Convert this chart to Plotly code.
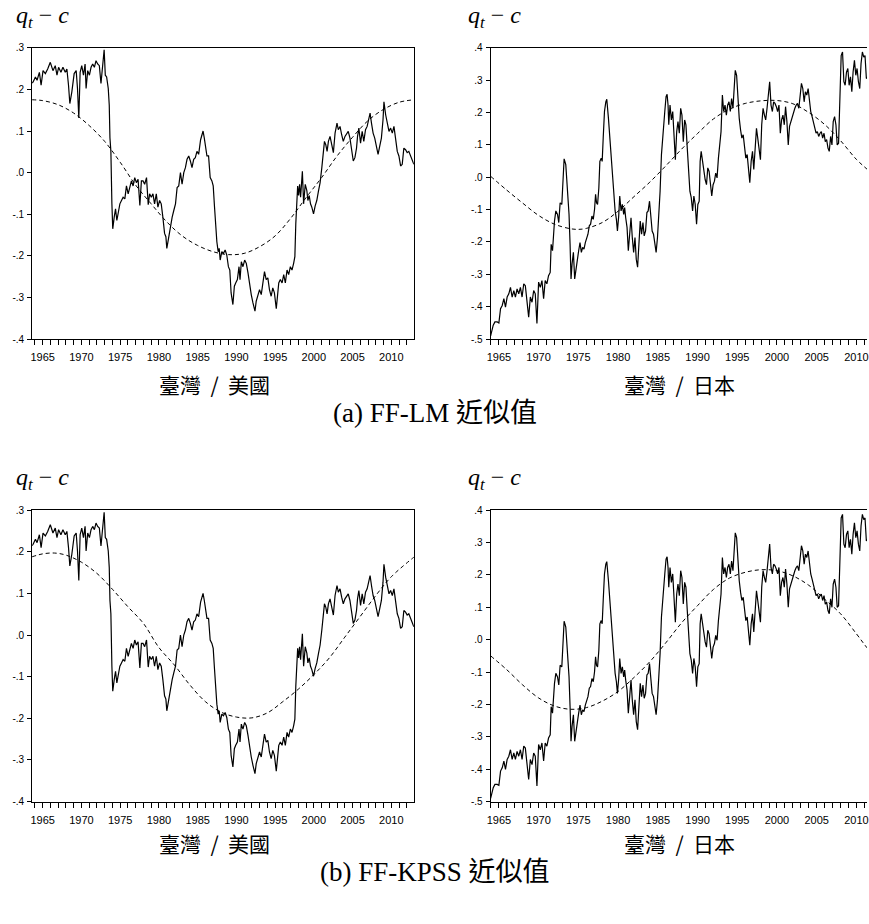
import plotly.graph_objects as go

# ---------------------------------------------------------------------------
# Real exchange rate deviation q_t - c, monthly (year, value) readings
# ---------------------------------------------------------------------------
tw_us = [
    (1963.63, .215), (1963.76, .218), (1964.06, .230), (1964.27, .222), (1964.57, .241), (1964.79, .210),
    (1965.04, .245), (1965.34, .238), (1965.64, .249), (1965.98, .265), (1966.32, .245), (1966.62, .257),
    (1966.84, .234), (1967.05, .253), (1967.35, .241), (1967.61, .253), (1967.91, .241), (1968.12, .249),
    (1968.33, .210), (1968.50, .166), (1968.76, .194), (1969.06, .238), (1969.32, .245), (1969.49, .202),
    (1969.66, .131), (1969.83, .241), (1970.04, .257), (1970.26, .234), (1970.47, .261), (1970.60, .202),
    (1970.81, .245), (1971.03, .234), (1971.24, .253), (1971.45, .261), (1971.67, .253), (1971.88, .269),
    (1972.09, .261), (1972.31, .257), (1972.52, .214), (1972.69, .249), (1972.93, .295), (1973.08, .234),
    (1973.25, .230), (1973.46, .202), (1973.59, .162), (1973.68, .083), (1973.80, .051), (1973.93, -.075),
    (1974.04, -.135), (1974.23, -.107), (1974.40, -.087), (1974.57, -.115), (1974.74, -.095), (1974.96, -.075),
    (1975.17, -.067), (1975.38, -.059), (1975.60, -.063), (1975.81, -.032), (1976.03, -.051), (1976.24, -.032),
    (1976.45, -.020), (1976.67, -.032), (1976.88, -.012), (1977.09, -.024), (1977.31, -.016), (1977.54, -.079),
    (1977.74, -.020), (1977.95, -.020), (1978.16, -.028), (1978.40, -.012), (1978.62, -.077), (1978.80, -.051),
    (1979.02, -.059), (1979.23, -.051), (1979.44, -.075), (1979.66, -.051), (1979.87, -.083), (1980.09, -.067),
    (1980.30, -.075), (1980.51, -.107), (1980.73, -.146), (1980.90, -.154), (1981.02, -.182), (1981.28, -.154),
    (1981.50, -.127), (1981.71, -.107), (1981.92, -.091), (1982.14, -.075), (1982.35, -.036), (1982.56, -.032),
    (1982.78, .000), (1982.99, -.028), (1983.21, .000), (1983.42, .012), (1983.63, .032), (1983.85, .040),
    (1984.06, .028), (1984.27, .012), (1984.49, .032), (1984.70, .036), (1984.91, .051), (1985.13, .044),
    (1985.38, .079), (1985.70, .100), (1985.86, .083), (1986.02, .063), (1986.20, .040), (1986.41, .040),
    (1986.62, -.012), (1986.84, -.020), (1987.01, -.032), (1987.18, -.083), (1987.35, -.139), (1987.48, -.166),
    (1987.65, -.190), (1987.78, -.182), (1987.91, -.210), (1988.12, -.190), (1988.33, -.194), (1988.55, -.186),
    (1988.76, -.198), (1988.97, -.226), (1989.15, -.234), (1989.32, -.289), (1989.55, -.317), (1989.74, -.273),
    (1989.91, -.265), (1990.13, -.257), (1990.34, -.226), (1990.47, -.257), (1990.64, -.214), (1990.85, -.226),
    (1991.07, -.210), (1991.28, -.218), (1991.50, -.241), (1991.71, -.273), (1991.92, -.293), (1992.14, -.313),
    (1992.40, -.333), (1992.56, -.309), (1992.78, -.297), (1992.99, -.281), (1993.21, -.293), (1993.42, -.265),
    (1993.63, -.238), (1993.85, -.257), (1994.06, -.253), (1994.27, -.281), (1994.49, -.297), (1994.70, -.277),
    (1994.91, -.289), (1995.15, -.327), (1995.30, -.297), (1995.47, -.265), (1995.68, -.257), (1995.90, -.265),
    (1996.11, -.245), (1996.32, -.265), (1996.54, -.234), (1996.75, -.245), (1996.97, -.226), (1997.18, -.234),
    (1997.39, -.218), (1997.55, -.202), (1997.67, -.123), (1997.78, -.075), (1997.91, -.032), (1998.03, -.055),
    (1998.16, -.028), (1998.29, -.059), (1998.52, .003), (1998.68, -.075), (1998.89, -.028), (1999.10, -.044),
    (1999.23, -.067), (1999.40, -.055), (1999.57, -.075), (1999.74, -.083), (1999.96, -.099), (2000.17, -.080),
    (2000.38, -.067), (2000.60, -.044), (2000.81, -.024), (2001.03, .012), (2001.24, .044), (2001.37, .075),
    (2001.54, .067), (2001.71, .051), (2001.88, .075), (2002.09, .087), (2002.31, .067), (2002.52, .048),
    (2002.74, .095), (2002.99, .119), (2003.16, .103), (2003.38, .111), (2003.59, .091), (2003.80, .075),
    (2004.02, .087), (2004.23, .095), (2004.44, .099), (2004.66, .083), (2004.87, .051), (2005.09, .028),
    (2005.30, .036), (2005.51, .059), (2005.64, .087), (2005.81, .107), (2006.03, .071), (2006.24, .099),
    (2006.45, .075), (2006.67, .103), (2006.88, .111), (2007.09, .127), (2007.26, .143), (2007.44, .119),
    (2007.65, .095), (2007.86, .083), (2008.08, .059), (2008.29, .044), (2008.50, .063), (2008.72, .083),
    (2008.93, .127), (2009.05, .170), (2009.27, .139), (2009.49, .119), (2009.70, .099), (2009.91, .107),
    (2010.13, .095), (2010.34, .111), (2010.56, .083), (2010.77, .051), (2010.98, .040), (2011.20, .016),
    (2011.41, .020), (2011.62, .059), (2011.84, .055), (2012.05, .048), (2012.26, .051), (2012.48, .040),
    (2012.69, .028), (2012.91, .020),
]

tw_jp = [
    (1963.96, -.490), (1964.08, -.478), (1964.29, -.457), (1964.50, -.447), (1964.79, -.447), (1965.00, -.450),
    (1965.21, -.406), (1965.42, -.396), (1965.63, -.375), (1965.83, -.401), (1966.04, -.370), (1966.25, -.360),
    (1966.46, -.340), (1966.67, -.370), (1966.88, -.350), (1967.08, -.370), (1967.29, -.345), (1967.50, -.360),
    (1967.71, -.340), (1967.92, -.370), (1968.13, -.329), (1968.33, -.335), (1968.54, -.396), (1968.75, -.432),
    (1968.96, -.370), (1969.17, -.386), (1969.38, -.350), (1969.58, -.360), (1969.79, -.452), (1970.00, -.324),
    (1970.21, -.340), (1970.42, -.319), (1970.63, -.375), (1970.83, -.319), (1971.04, -.329), (1971.25, -.304),
    (1971.46, -.294), (1971.58, -.207), (1971.75, -.227), (1971.88, -.176), (1972.00, -.135), (1972.17, -.104),
    (1972.38, -.115), (1972.54, -.140), (1972.71, -.079), (1972.92, -.084), (1973.04, -.023), (1973.21, .057),
    (1973.42, .039), (1973.58, -.012), (1973.71, -.079), (1973.83, -.115), (1973.96, -.207), (1974.08, -.314),
    (1974.21, -.268), (1974.38, -.232), (1974.54, -.314), (1974.71, -.278), (1974.88, -.258), (1975.04, -.227),
    (1975.21, -.202), (1975.38, -.232), (1975.54, -.217), (1975.71, -.222), (1975.88, -.202), (1976.04, -.191),
    (1976.21, -.176), (1976.38, -.150), (1976.54, -.145), (1976.71, -.120), (1976.88, -.130), (1977.04, -.099),
    (1977.17, -.053), (1977.29, -.079), (1977.42, -.084), (1977.58, -.033), (1977.71, .049), (1977.88, .059),
    (1978.00, .049), (1978.13, .121), (1978.29, .203), (1978.46, .233), (1978.58, .241), (1978.79, .182),
    (1978.96, .121), (1979.08, .070), (1979.25, .039), (1979.38, -.012), (1979.50, -.058), (1979.63, -.104),
    (1979.79, -.130), (1979.92, -.166), (1980.08, -.120), (1980.21, -.058), (1980.38, -.104), (1980.54, -.084),
    (1980.71, -.115), (1980.83, -.094), (1980.96, -.125), (1981.13, -.155), (1981.29, -.227), (1981.46, -.186),
    (1981.63, -.125), (1981.79, -.186), (1981.96, -.232), (1982.13, -.186), (1982.29, -.253), (1982.46, -.278),
    (1982.63, -.207), (1982.79, -.135), (1982.96, -.176), (1983.13, -.140), (1983.29, -.181), (1983.46, -.166),
    (1983.63, -.109), (1983.79, -.104), (1983.96, -.074), (1984.13, -.125), (1984.29, -.166), (1984.46, -.176),
    (1984.63, -.207), (1984.79, -.232), (1984.96, -.186), (1985.13, -.115), (1985.29, -.043), (1985.46, .070),
    (1985.58, .110), (1985.71, .172), (1985.88, .203), (1986.04, .249), (1986.17, .256), (1986.29, .223),
    (1986.38, .162), (1986.54, .223), (1986.71, .177), (1986.88, .203), (1987.04, .110), (1987.21, .054),
    (1987.38, .141), (1987.54, .172), (1987.71, .136), (1987.88, .213), (1988.04, .192), (1988.21, .110),
    (1988.38, .177), (1988.54, .162), (1988.71, .090), (1988.88, .018), (1989.04, -.043), (1989.21, -.063),
    (1989.38, -.104), (1989.54, -.058), (1989.71, -.084), (1989.88, -.145), (1990.04, -.084), (1990.21, -.074),
    (1990.33, .049), (1990.46, .080), (1990.63, .049), (1990.79, .029), (1990.96, -.007), (1991.13, -.023),
    (1991.29, .029), (1991.46, .018), (1991.63, -.017), (1991.79, -.058), (1991.96, -.023), (1992.13, -.012),
    (1992.29, .013), (1992.46, -.002), (1992.63, .059), (1992.79, .100), (1992.96, .141), (1993.13, .254),
    (1993.29, .203), (1993.46, .223), (1993.63, .192), (1993.79, .223), (1993.96, .233), (1994.13, .203),
    (1994.29, .243), (1994.46, .213), (1994.63, .274), (1994.75, .330), (1994.92, .315), (1995.08, .243),
    (1995.25, .182), (1995.42, .146), (1995.58, .121), (1995.75, .131), (1995.92, .095), (1996.08, .059),
    (1996.25, .070), (1996.42, .018), (1996.58, -.017), (1996.75, .049), (1996.92, .080), (1997.08, .024),
    (1997.25, .100), (1997.42, .151), (1997.58, .121), (1997.75, .080), (1997.92, .054), (1998.08, .162),
    (1998.25, .213), (1998.42, .192), (1998.58, .177), (1998.75, .213), (1998.92, .264), (1999.08, .295),
    (1999.25, .223), (1999.42, .203), (1999.58, .233), (1999.75, .228), (1999.92, .218), (2000.08, .203),
    (2000.25, .223), (2000.42, .136), (2000.58, .177), (2000.75, .192), (2000.92, .162), (2001.08, .218),
    (2001.25, .172), (2001.42, .100), (2001.58, .157), (2001.75, .172), (2001.92, .182), (2002.08, .203),
    (2002.25, .213), (2002.42, .223), (2002.58, .228), (2002.75, .213), (2002.92, .249), (2003.08, .290),
    (2003.25, .274), (2003.42, .233), (2003.58, .264), (2003.75, .254), (2003.92, .274), (2004.08, .233),
    (2004.25, .203), (2004.42, .187), (2004.58, .167), (2004.75, .157), (2004.92, .136), (2005.08, .141),
    (2005.25, .126), (2005.42, .136), (2005.58, .141), (2005.75, .121), (2005.92, .136), (2006.08, .110),
    (2006.25, .116), (2006.42, .090), (2006.58, .080), (2006.75, .126), (2006.92, .100), (2007.08, .172),
    (2007.25, .187), (2007.42, .162), (2007.58, .100), (2007.75, .105), (2007.92, .254), (2008.08, .376),
    (2008.25, .387), (2008.42, .295), (2008.58, .284), (2008.75, .325), (2008.92, .336), (2009.08, .284),
    (2009.25, .310), (2009.42, .264), (2009.58, .325), (2009.75, .361), (2009.92, .315), (2010.08, .336),
    (2010.25, .295), (2010.42, .274), (2010.58, .351), (2010.75, .387), (2010.92, .371), (2011.08, .376),
    (2011.25, .305), (2011.42, .310), (2011.60, .330),
]

# Fourier-function fits (dashed), read at regular years
tw_us_lm = [
    (1963.63, .175), (1965, .173), (1967, .163), (1969, .143), (1971, .113), (1973, .075), (1975, .025),
    (1977, -.030), (1979, -.075), (1981, -.118), (1983, -.152), (1985, -.175), (1987, -.190), (1989, -.197),
    (1991, -.194), (1993, -.178), (1995, -.152), (1997, -.110), (1999, -.060), (2001, -.012), (2003, .040),
    (2005, .085), (2007, .125), (2009, .152), (2011, .169), (2012.91, .175),
]
tw_jp_lm = [
    (1963.96, .003), (1966, -.040), (1968, -.080), (1970, -.118), (1972, -.145), (1974, -.159), (1975, -.161),
    (1976, -.158), (1978, -.140), (1980, -.105), (1982, -.060), (1984, -.015), (1986, .035), (1988, .087),
    (1990, .135), (1992, .180), (1994, .210), (1996, .228), (1998, .236), (2000, .237), (2002, .227),
    (2004, .200), (2006, .163), (2008, .113), (2010, .055), (2011.33, .025), (2012.9, -.010),
]
tw_us_kpss = [
    (1963.63, .188), (1965, .195), (1966.5, .197), (1968, .192), (1970, .175), (1972, .148), (1974, .110),
    (1976, .068), (1978, .028), (1980, -.030), (1982, -.072), (1984, -.120), (1986, -.160), (1988, -.185),
    (1990, -.197), (1992, -.199), (1994, -.187), (1996, -.160), (1998, -.130), (2000, -.095), (2002, -.055),
    (2004, -.005), (2006, .045), (2008, .095), (2010, .140), (2012.91, .187),
]
tw_jp_kpss = [
    (1963.96, -.050), (1966, -.093), (1968, -.140), (1970, -.180), (1972, -.205), (1974, -.215), (1976, -.210),
    (1978, -.190), (1980, -.160), (1982, -.117), (1984, -.068), (1986, -.010), (1988, .052), (1990, .105),
    (1992, .155), (1994, .190), (1996, .208), (1998, .216), (2000, .213), (2002, .197), (2004, .168),
    (2006, .125), (2008, .080), (2010, .018), (2011.33, -.025), (2012.9, -.070),
]

us_ticks = [-.4, -.3, -.2, -.1, 0, .1, .2, .3]
us_ticktext = ["-.4", "-.3", "-.2", "-.1", ".0", ".1", ".2", ".3"]
jp_ticks = [-.5, -.4, -.3, -.2, -.1, 0, .1, .2, .3, .4]
jp_ticktext = ["-.5", "-.4", "-.3", "-.2", "-.1", ".0", ".1", ".2", ".3", ".4"]

NB = "\u00a0"
pair_labels = ["臺灣" + NB * 2 + "/" + NB * 2 + "美國", "臺灣" + NB * 2 + "/" + NB * 2 + "日本"]
row_titles = ["(a) FF-LM 近似值", "(b) FF-KPSS 近似值"]

W, H = 869, 924
SANS = "Liberation Sans, Arial, sans-serif"
SERIF = "Liberation Serif, Times New Roman, serif"
CJK = "Noto Sans CJK TC, Noto Sans CJK SC, sans-serif"


def px_x(p):
    return p / W


def px_y(p):
    return 1 - p / H


def unzip(pairs):
    return [p[0] for p in pairs], [p[1] for p in pairs]


fig = go.Figure()

panels = [
    # (axis suffix, solid series, dashed series)
    ("", tw_us, tw_us_lm),
    ("2", tw_jp, tw_jp_lm),
    ("3", tw_us, tw_us_kpss),
    ("4", tw_jp, tw_jp_kpss),
]
for sfx, solid, dashed in panels:
    xs, ys = unzip(dashed)
    fig.add_trace(go.Scatter(x=xs, y=ys, mode="lines", xaxis="x" + sfx, yaxis="y" + sfx,
                             line=dict(color="black", width=1, dash="4px,3px", shape="spline", smoothing=1.0),
                             showlegend=False, hoverinfo="skip"))
    xs, ys = unzip(solid)
    fig.add_trace(go.Scatter(x=xs, y=ys, mode="lines", xaxis="x" + sfx, yaxis="y" + sfx,
                             line=dict(color="black", width=1.2),
                             showlegend=False, hoverinfo="skip"))

left_dom = [px_x(28.3), px_x(412.7)]
right_dom = [px_x(490), 1.0]
top_dom = [px_y(337.5), px_y(42.3)]
bot_dom = [px_y(806), px_y(510.8)]


def xaxis(dom, rng, anchor):
    return dict(domain=dom, range=rng, anchor=anchor, showline=True, linecolor="black", linewidth=1,
                mirror=True, showgrid=False, zeroline=False, ticks="outside", ticklen=5, tickwidth=1,
                tickcolor="black", tick0=1965, dtick=5, ticklabelstandoff=3, ticklabeloverflow="allow",
                tickfont=dict(family=SANS, size=11, color="black"),
                minor=dict(ticks="outside", dtick=1, ticklen=5, tickwidth=1, tickcolor="black", showgrid=False))


def yaxis(dom, rng, vals, text, anchor, mirror):
    return dict(domain=dom, range=rng, anchor=anchor, showline=True, linecolor="black", linewidth=1,
                mirror=mirror, showgrid=False, zeroline=False, ticks="outside", ticklen=4, tickwidth=1,
                tickcolor="black", tickvals=vals, ticktext=text, ticklabelstandoff=1,
                ticklabeloverflow="allow", tickfont=dict(family=SANS, size=10, color="black"))


us_range = [-.4, .3]
jp_range = [-.5, .4]
us_x = [1963.63, 2012.91]
jp_x = [1963.96, 2011.33]

fig.update_layout(
    width=W, height=H,
    margin=dict(l=0, r=0, t=0, b=0),
    paper_bgcolor="white", plot_bgcolor="white",
    xaxis=xaxis(left_dom, us_x, "y"),
    yaxis=yaxis(top_dom, us_range, us_ticks, us_ticktext, "x", True),
    xaxis2=xaxis(right_dom, jp_x, "y2"),
    yaxis2=yaxis(top_dom, jp_range, jp_ticks, jp_ticktext, "x2", False),
    xaxis3=xaxis(left_dom, us_x, "y3"),
    yaxis3=yaxis(bot_dom, us_range, us_ticks, us_ticktext, "x3", True),
    xaxis4=xaxis(right_dom, jp_x, "y4"),
    yaxis4=yaxis(bot_dom, jp_range, jp_ticks, jp_ticktext, "x4", False),
)

annotations = []
qlabel = "<i>q<sub>t</sub></i> − <i>c</i>"
for row_top in (11, 479):
    for xl in (10, 465):
        annotations.append(dict(text=qlabel, x=px_x(xl), y=px_y(row_top), xref="paper", yref="paper",
                                xanchor="left", yanchor="middle", showarrow=False,
                                font=dict(family=SERIF, size=24, color="black")))
for sub_y, title_y, title in ((383, 412, row_titles[0]), (848, 877, row_titles[1])):
    for cx, lab in zip((212, 680), pair_labels):
        annotations.append(dict(text=lab, x=px_x(cx), y=px_y(sub_y), xref="paper", yref="paper",
                                xanchor="center", yanchor="middle", showarrow=False,
                                font=dict(family=CJK, size=21, color="black")))
    annotations.append(dict(text=title, x=px_x(434), y=px_y(title_y), xref="paper", yref="paper",
                            xanchor="center", yanchor="middle", showarrow=False,
                            font=dict(family=SERIF + ", " + CJK, size=27, color="black")))
fig.update_layout(annotations=annotations)

fig.write_html("out.html")
